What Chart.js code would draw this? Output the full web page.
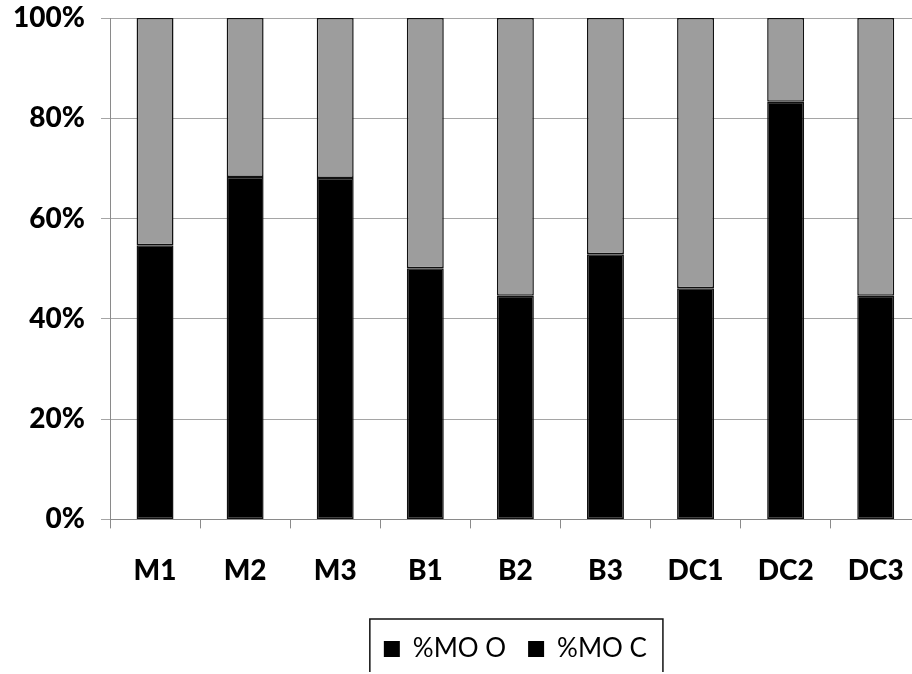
<!DOCTYPE html>
<html>
<head>
<meta charset="utf-8">
<script src="https://cdn.jsdelivr.net/npm/chart.js@4.4.1/dist/chart.umd.min.js"></script>
<style>
  html, body { margin: 0; padding: 0; background: #fff; overflow: hidden; }
  #wrap { position: absolute; left: 0; top: 0; width: 930px; height: 672px; }
</style>
</head>
<body>
<div id="wrap"><canvas id="c" width="930" height="672"></canvas></div>
<script>
// Sample sites
const categories = ['M1', 'M2', 'M3', 'B1', 'B2', 'B3', 'DC1', 'DC2', 'DC3'];
// Share of organic matter fractions per site (%)
const moO = [54.7, 68.3, 68.1, 50.1, 44.6, 52.9, 46.1, 83.3, 44.6];
const moC = [45.3, 31.7, 31.9, 49.9, 55.4, 47.1, 53.9, 16.7, 55.4];
const yTicks = [0, 20, 40, 60, 80, 100];

const FONT = 'Lato, "Open Sans", sans-serif';

// Frame drawn around the legend entries
const legendFrame = {
  id: 'legendFrame',
  afterDraw(chart) {
    const boxes = chart.legend && chart.legend.legendHitBoxes;
    if (!boxes || !boxes.length) return;
    let l = Infinity, r = -Infinity, t = Infinity;
    boxes.forEach(b => {
      l = Math.min(l, b.left);
      r = Math.max(r, b.left + b.width);
      t = Math.min(t, b.top);
    });
    const ctx = chart.ctx;
    ctx.save();
    ctx.strokeStyle = '#111';
    ctx.lineWidth = 1.5;
    ctx.strokeRect(l - 14, t - 17, (r - l) + 30, 80);
    ctx.restore();
  }
};

new Chart(document.getElementById('c'), {
  type: 'bar',
  data: {
    labels: categories,
    datasets: [
      {
        label: '%MO O',
        data: moO,
        backgroundColor: '#000000',
        borderColor: '#111111',
        borderWidth: 1.5,
        borderSkipped: false,
        barPercentage: 0.41,
        categoryPercentage: 1.0
      },
      {
        label: '%MO C',
        data: moC,
        backgroundColor: '#9d9d9d',
        borderColor: '#111111',
        borderWidth: 1.5,
        borderSkipped: false,
        barPercentage: 0.41,
        categoryPercentage: 1.0
      }
    ]
  },
  options: {
    responsive: false,
    animation: false,
    devicePixelRatio: 1,
    layout: { padding: { left: 0, right: 5, top: 0, bottom: 0 } },
    plugins: {
      tooltip: { enabled: false },
      legend: {
        position: 'bottom',
        fullSize: false,
        labels: {
          color: '#000',
          font: { family: FONT, size: 26 },
          boxWidth: 16,
          boxHeight: 16,
          padding: 22,
          generateLabels(chart) {
            return chart.data.datasets.map((ds, i) => ({
              text: ds.label,
              fillStyle: '#000',
              strokeStyle: '#000',
              lineWidth: 0,
              fontColor: '#000',
              datasetIndex: i
            }));
          }
        }
      }
    },
    scales: {
      x: {
        stacked: true,
        offset: true,
        grid: {
          offset: true,
          drawOnChartArea: false,
          drawTicks: true,
          tickLength: 9,
          color: '#8a8a8a'
        },
        border: { color: '#8a8a8a', width: 1 },
        ticks: {
          color: '#000',
          font: { family: FONT, size: 28, weight: '900' },
          padding: 26,
          maxRotation: 0
        }
      },
      y: {
        stacked: true,
        min: 0,
        max: 100,
        afterBuildTicks(scale) {
          scale.ticks = yTicks.map(v => ({ value: v }));
        },
        afterFit(scale) { scale.width = 110; },
        grid: {
          color: '#a5a5a5',
          tickLength: 9,
          drawTicks: true
        },
        border: { color: '#8a8a8a', width: 1 },
        ticks: {
          color: '#000',
          font: { family: FONT, size: 28, weight: '900', lineHeight: 0.15 },
          padding: 16,
          callback: v => v + '%'
        }
      }
    }
  },
  plugins: [legendFrame]
});
</script>
</body>
</html>
